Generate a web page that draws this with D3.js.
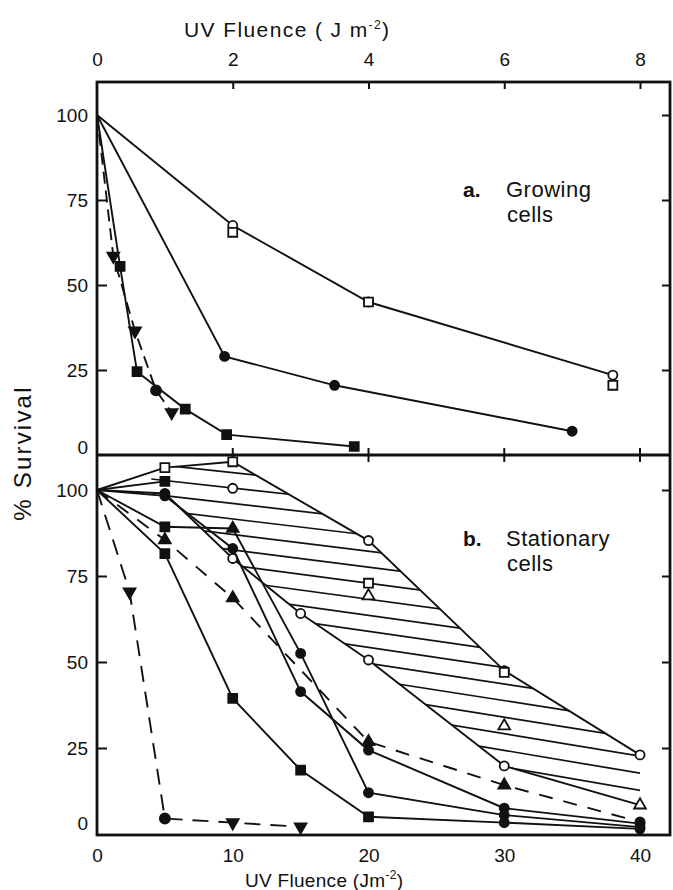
<!DOCTYPE html>
<html>
<head>
<meta charset="utf-8">
<script src="https://cdn.jsdelivr.net/npm/d3@7"></script>
<style>
  body { margin: 0; background: #fff; }
  text { font-family: "Liberation Sans", Arial, sans-serif; fill: #111; }
</style>
</head>
<body>
<div class="chart"></div>
<script>
// ---- data (fluence, % survival) ----
// a. growing cells, fluence 0-8 J m-2
var growOpenCircle   = [[0,100],[2,67.5],[4,45],[7.6,23.5]];
var growOpenSquare   = [[2,65.5],[4,45],[7.6,20.5]];
var growFilledCircle = [[0,100],[1.88,29],[3.5,20.5],[7,7]];
var growFilledSquare = [[0,100],[0.34,55.5],[0.59,24.5],[1.3,13.5],[1.91,6],[3.79,2.5]];
var growDashDown     = [[0,100],[0.24,58.5],[0.56,36.5],[0.87,19],[1.1,12.5]];

// b. stationary cells, fluence 0-40 J m-2
var statUpper      = [[0,100],[5,106.5],[10,108.2],[20,85.3],[30,47.5],[40,23]];
var statLower      = [[0,100],[5,99],[10,80.1],[15,64.1],[20,50.6],[30,19.8],[40,8.4]];
var statOpenSquare = [[20,72.9],[30,47]];
var statOpenCircle = [[10,100.5]];
var statOpenTri    = [[20,69.2],[30,31.4]];
var statFilledA    = [[0,100],[5,89.3],[10,88.8],[15,52.5],[20,12],[30,5.5],[40,2]];
var statFilledB    = [[0,100],[5,98.3],[10,83],[15,41.4],[20,24.4],[30,7.5],[40,3]];
var statFilledC    = [[0,100],[5,81.5],[10,39.4],[15,18.6],[20,5],[30,3.3],[40,1.5]];
var statFilledD    = [[0,100],[5,102.5]];
var statDashTri    = [[0,100],[5,85.5],[10,68.6],[20,26.8],[30,14.2],[40,3.5]];
var statDashDown   = [[0,100],[2.4,70.4],[5,4.5],[10,3.3],[15,2.1]];

var topTicks = [0, 2, 4, 6, 8];
var bottomTicks = [0, 10, 20, 30, 40];
var survivalTicks = [0, 25, 50, 75, 100];

// ---- layout ----
var svgWidth = 673, svgHeight = 890;
var plotLeft = 97, plotRight = 670, plotTop = 82, plotMid = 455, plotBottom = 835;

var svg = d3.select(".chart").append("svg")
  .attr("width", svgWidth)
  .attr("height", svgHeight);

var xTop = d3.scaleLinear().domain([0, 8]).range([plotLeft, 640]);
var xBot = d3.scaleLinear().domain([0, 40]).range([plotLeft, 640]);
var yTop = d3.scaleLinear().domain([0, 100]).range([plotMid, 115]);
var yBot = d3.scaleLinear().domain([0, 100]).range([834, 490]);

// hatched band between the two open-symbol curves
var band = statUpper.concat(statLower.slice().reverse());
svg.append("clipPath").attr("id", "bandClip")
  .append("path")
  .attr("d", "M" + band.map(d => xBot(d[0]) + "," + yBot(d[1])).join("L") + "Z");

var hatch = svg.append("g").attr("clip-path", "url(#bandClip)");
for (var i = 0; i < 26; i++) {
  hatch.append("line")
    .attr("x1", xBot(4)).attr("y1", yBot(112 - 4.4 * i))
    .attr("x2", xBot(41)).attr("y2", yBot(97 - 5.0 * i))
    .attr("stroke", "#111").attr("stroke-width", 1.7);
}

// ---- frame and axes ----
var frame = svg.append("g").attr("stroke", "#111").attr("fill", "none");
frame.append("rect")
  .attr("x", plotLeft).attr("y", plotTop)
  .attr("width", plotRight - plotLeft).attr("height", plotBottom - plotTop)
  .attr("stroke-width", 2.8);
frame.append("line")
  .attr("x1", plotLeft).attr("x2", plotRight).attr("y1", plotMid).attr("y2", plotMid)
  .attr("stroke-width", 2.8);

function axisGroup(axis, tx, ty) {
  var g = svg.append("g")
    .attr("transform", "translate(" + tx + "," + ty + ")")
    .call(axis);
  g.select(".domain").remove();
  g.selectAll(".tick line").attr("stroke", "#111").attr("stroke-width", 2);
  g.selectAll("text").style("font-size", "19px").attr("fill", "#111");
  return g;
}

// top fluence axis 0-8
var gTop = axisGroup(d3.axisTop(xTop).tickValues(topTicks).tickSize(-7).tickPadding(16), 0, plotTop);
gTop.selectAll(".tick").filter(d => d === 0).select("line").remove();

// divider crosses and bottom axis 0-40
svg.append("g").selectAll("line")
  .data(bottomTicks.slice(1))
  .enter().append("line")
  .attr("x1", d => xBot(d)).attr("x2", d => xBot(d))
  .attr("y1", plotMid - 7).attr("y2", plotMid + 7)
  .attr("stroke", "#111").attr("stroke-width", 2);

var gBot = axisGroup(d3.axisBottom(xBot).tickValues(bottomTicks).tickSize(0).tickPadding(14), 0, plotBottom);

// left survival axes
var gLeftTop = axisGroup(d3.axisLeft(yTop).tickValues(survivalTicks).tickSize(-10).tickPadding(9), plotLeft, 0);
var gLeftBot = axisGroup(d3.axisLeft(yBot).tickValues(survivalTicks).tickSize(-10).tickPadding(9), plotLeft, 0);
gLeftTop.selectAll(".tick").filter(d => d === 0 || d === 100).select("line").remove();
gLeftBot.selectAll(".tick").filter(d => d === 0 || d === 100).select("line").remove();
gLeftTop.selectAll(".tick").filter(d => d === 0).select("text").attr("dy", "-0.1em");
gLeftBot.selectAll(".tick").filter(d => d === 0).select("text").attr("dy", "-0.25em");

// right side inward ticks
axisGroup(d3.axisRight(yTop).tickValues([25, 50, 75, 100]).tickSize(-8).tickFormat(""), plotRight, 0);
axisGroup(d3.axisRight(yBot).tickValues([25, 50, 75, 100]).tickSize(-8).tickFormat(""), plotRight, 0);

// ---- series ----
var symbols = {
  c: d3.symbolCircle, s: d3.symbolSquare, t: d3.symbolTriangle, v: d3.symbolTriangle, h: d3.symbolCircle
};
var symSize = { c: 65, s: 80, t: 60, v: 60, h: 80 };

function drawSeries(data, xs, ys, opts) {
  var g = svg.append("g");
  if (opts.line !== false) {
    g.append("path")
      .datum(data)
      .attr("fill", "none")
      .attr("stroke", "#111")
      .attr("stroke-width", 1.9)
      .attr("stroke-dasharray", opts.dash || null)
      .attr("d", d3.line().x(d => xs(d[0])).y(d => ys(d[1])));
  }
  var marks = data.map((d, i) => ({ d: d, m: opts.marks ? opts.marks[i] : opts.mark }))
    .filter(p => p.m);
  g.selectAll(".mark")
    .data(marks)
    .enter().append("path")
    .attr("transform", p => "translate(" + xs(p.d[0]) + "," + ys(p.d[1]) + ")" + (p.m.toLowerCase() === "v" ? " rotate(180)" : ""))
    .attr("d", p => d3.symbol().type(symbols[p.m.toLowerCase()]).size(symSize[p.m.toLowerCase()])())
    .attr("fill", p => p.m === p.m.toUpperCase() ? "#fff" : "#111")
    .attr("stroke", "#111")
    .attr("stroke-width", 1.8);
}

// lower-case = filled marker, upper-case = open marker
drawSeries(growOpenCircle, xTop, yTop, { marks: [null, "C", "C", "C"] });
drawSeries(growOpenSquare, xTop, yTop, { line: false, mark: "S" });
drawSeries(growFilledCircle, xTop, yTop, { marks: [null, "c", "c", "c"] });
drawSeries(growFilledSquare, xTop, yTop, { marks: [null, "s", "s", "s", "s", "s"] });
drawSeries(growDashDown, xTop, yTop, { dash: "12,7", marks: [null, "v", "v", "h", "v"] });

drawSeries(statUpper, xBot, yBot, { marks: [null, "S", "S", "C", "C", "C"] });
drawSeries(statLower, xBot, yBot, { marks: [null, "c", "C", "C", "C", "C", "T"] });
drawSeries(statOpenSquare, xBot, yBot, { line: false, mark: "S" });
drawSeries(statOpenCircle, xBot, yBot, { line: false, mark: "C" });
drawSeries(statOpenTri, xBot, yBot, { line: false, mark: "T" });
drawSeries(statFilledA, xBot, yBot, { marks: [null, "s", "t", "c", "c", "c", "c"] });
drawSeries(statFilledB, xBot, yBot, { marks: [null, "c", "c", "c", "c", "c", "c"] });
drawSeries(statFilledC, xBot, yBot, { marks: [null, "s", "s", "s", "s", "c", "c"] });
drawSeries(statFilledD, xBot, yBot, { marks: [null, "s"] });
drawSeries(statDashTri, xBot, yBot, { dash: "14,11", marks: [null, "t", "t", "t", "t", "c"] });
drawSeries(statDashDown, xBot, yBot, { dash: "16,10", marks: [null, "v", "h", "v", "v"] });

// ---- titles ----
function fluenceTitle(x, y, unit, size, spacing) {
  var t = svg.append("text").attr("x", x).attr("y", y)
    .style("font-size", size + "px").style("letter-spacing", spacing + "px");
  t.append("tspan").text("UV Fluence  " + unit);
  t.append("tspan").attr("dy", -8).style("font-size", "12px").text("-2");
  t.append("tspan").attr("dy", 8).text(")");
}
fluenceTitle(184, 37, "( J m", 21, 1.4);
fluenceTitle(245, 887, "(Jm", 19, 0.3);

svg.append("text")
  .attr("transform", "translate(31,453) rotate(-90)")
  .attr("text-anchor", "middle")
  .style("font-size", "24px")
  .style("letter-spacing", "2.2px")
  .text("% Survival");

function panelLabel(letter, line1, y) {
  svg.append("text").attr("x", 463).attr("y", y)
    .style("font-size", "21px").style("font-weight", "bold").text(letter);
  svg.append("text").attr("x", 506).attr("y", y)
    .style("font-size", "22px").style("letter-spacing", "0.5px").text(line1);
  svg.append("text").attr("x", 507).attr("y", y + 25)
    .style("font-size", "22px").style("letter-spacing", "0.5px").text("cells");
}
panelLabel("a.", "Growing", 197);
panelLabel("b.", "Stationary", 546);
</script>
</body>
</html>
